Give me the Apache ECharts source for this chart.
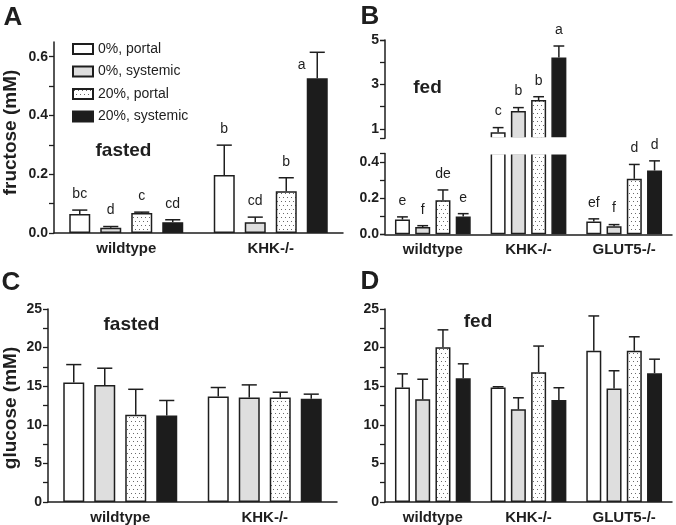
<!DOCTYPE html>
<html><head><meta charset="utf-8">
<script src="https://cdn.jsdelivr.net/npm/echarts@6/dist/echarts.min.js"></script>
<style>html,body{margin:0;padding:0;background:#fff}#c{width:676px;height:525px}</style>
</head><body><div id="c"></div>
<script>
// ---------- data ----------
const seriesNames = ['0%, portal', '0%, systemic', '20%, portal', '20%, systemic'];
const groupsAC = ['wildtype', 'KHK-/-'];
const groupsBD = ['wildtype', 'KHK-/-', 'GLUT5-/-'];

// Panel A: fructose, fasted (per series: [wildtype, KHK-/-])
const fructFastedMean = [[0.065, 0.197], [0.018, 0.037], [0.068, 0.142], [0.037, 0.527]];
const fructFastedErr  = [[0.013, 0.102], [0.004, 0.017], [0.003, 0.046], [0.008, 0.088]];
const fructFastedLetters = [['bc', 'b'], ['d', 'cd'], ['c', 'b'], ['cd', 'a']];

// Panel B: fructose, fed (per series: [wildtype, KHK-/-, GLUT5-/-])
const fructFedMean = [[0.082, 0.85, 0.071], [0.040, 1.81, 0.045], [0.190, 2.30, 0.309], [0.099, 4.21, 0.355]];
const fructFedErr  = [[0.015, 0.21, 0.015], [0.008, 0.15, 0.009], [0.057, 0.15, 0.080], [0.016, 0.52, 0.054]];
const fructFedLetters = [['e', 'c', 'ef'], ['f', 'b', 'f'], ['de', 'b', 'd'], ['e', 'a', 'd']];

// Panel C: glucose, fasted
const glucFastedMean = [[15.47, 13.66], [15.17, 13.53], [11.30, 13.53], [11.20, 13.36]];
const glucFastedErr  = [[2.33, 1.17], [2.16, 1.64], [3.30, 0.69], [1.95, 0.61]];

// Panel D: glucose, fed
const glucFedMean = [[14.83, 14.83, 19.60], [13.30, 12.00, 14.70], [20.04, 16.80, 19.60], [16.03, 13.20, 16.68]];
const glucFedErr  = [[1.77, 0.10, 4.50], [2.60, 1.50, 2.30], [2.26, 3.40, 1.80], [1.87, 1.60, 1.82]];

// axis ticks / labels
const ticksA = [0, 0.1, 0.2, 0.3, 0.4, 0.5, 0.6];
const labelsA = [0, 0.2, 0.4, 0.6];
const ticksBup = [1, 2, 3, 4, 5];
const labelsBup = [1, 3, 5];
const ticksBlo = [0, 0.1, 0.2, 0.3, 0.4];
const labelsBlo = [0, 0.2, 0.4];
const ticksCD = [0, 2.5, 5, 7.5, 10, 12.5, 15, 17.5, 20, 22.5, 25];
const labelsCD = [0, 5, 10, 15, 20, 25];

// ---------- layout / style ----------
const FONT = 'Liberation Sans, Arial, Helvetica, sans-serif';
const INK = '#1e1e1e';
const AX = {
  A:   {min: 0, max: 0.65},
  Bup: {min: 0.58, max: 5},
  Blo: {min: 0, max: 0.45},
  CD:  {min: 0, max: 25}
};
const G = [
  {left: 54, top: 42, width: 289, height: 191},      // A
  {left: 385, top: 40, width: 287, height: 98.3},    // B upper
  {left: 385, top: 153.5, width: 287, height: 80.8}, // B lower
  {left: 48, top: 309, width: 289, height: 193},     // C
  {left: 385, top: 309, width: 287, height: 193}     // D
];
const BW_WIDE = 21, GAP_WIDE = 0.476;
const BW_NARROW = 15, GAP_NARROW = 0.35;

function makeDots() {
  const cv = document.createElement('canvas');
  cv.width = 4; cv.height = 8;
  const g = cv.getContext('2d');
  g.fillStyle = '#ffffff'; g.fillRect(0, 0, 4, 8);
  g.fillStyle = '#6a6a6a'; g.fillRect(1, 1, 1, 1); g.fillRect(3, 5, 1, 1);
  return cv;
}
const dots = makeDots();
const BORDER = 1.5;
const barStyles = [
  {color: '#ffffff', borderColor: INK, borderWidth: BORDER},
  {color: '#dedede', borderColor: INK, borderWidth: BORDER},
  {color: {image: dots, repeat: 'repeat'}, borderColor: INK, borderWidth: BORDER},
  {color: '#1c1c1c', borderColor: INK, borderWidth: BORDER}
];

function xAx(gi, cats, show) {
  return {
    type: 'category', gridIndex: gi, data: cats, show: show,
    axisLine: {lineStyle: {color: INK, width: 1.5}},
    axisTick: {alignWithLabel: true, length: 5, lineStyle: {color: INK, width: 1.3}},
    axisLabel: {fontFamily: FONT, fontSize: 15, fontWeight: 'bold', color: INK, margin: 8},
    splitLine: {show: false}
  };
}
function yAx(gi, ext, ticks, labels, dec, capTicks) {
  return {
    type: 'value', gridIndex: gi, min: ext.min, max: ext.max,
    axisLine: {show: true, lineStyle: {color: INK, width: 1.5}},
    axisTick: {show: true, length: 5, customValues: capTicks ? ticks.concat([ext.min, ext.max]) : ticks, lineStyle: {color: INK, width: 1.3}},
    axisLabel: {customValues: labels, formatter: v => v.toFixed(dec), fontFamily: FONT, fontSize: 14, fontWeight: 'bold', color: INK, margin: 6},
    splitLine: {show: false}
  };
}
function bars(gi, means, bw, gap, keep) {
  return means.map((arr, s) => ({
    type: 'bar', name: seriesNames[s], xAxisIndex: gi, yAxisIndex: gi,
    data: arr.map(v => keep(v) ? v : '-'),
    barWidth: bw, barGap: (gap * 100) + '%',
    itemStyle: barStyles[s], clip: true, silent: true, z: 2
  }));
}
function errs(gi, means, errsArr, letters, bw, gap, ext, mode, capInside) {
  const spacing = bw * (1 + gap);
  const cap = bw * 0.72;
  const data = [];
  means.forEach((arr, s) => arr.forEach((m, c) => {
    data.push([c, m, m + errsArr[s][c], s]);
  }));
  return {
    type: 'custom', xAxisIndex: gi, yAxisIndex: gi, data: data, silent: true, z: 6, clip: false,
    renderItem: function (params, api) {
      const d = data[params.dataIndex];
      const c = d[0], m = d[1], top = d[2], s = d[3];
      if (mode === 'upper' && m < ext.min) return;
      if (mode === 'lower' && top > ext.max) return;
      const p0 = api.coord([c, m]);
      const p1 = api.coord([c, top]);
      const x = p0[0] + (s - 1.5) * spacing;
      const children = [
        {type: 'line', shape: {x1: x, y1: p0[1], x2: x, y2: p1[1]}, style: {stroke: INK, lineWidth: 1.5}},
        {type: 'line', shape: {x1: x - cap / 2, y1: p1[1], x2: x + cap / 2, y2: p1[1]}, style: {stroke: INK, lineWidth: 1.5}}
      ];
      if (letters) {
        let lx = x, ly = p1[1] - 16;
        if (capInside && ly < G[gi].top + 4) { lx = x - spacing / 2; ly = p1[1] + 13; }
        children.push({type: 'text', x: lx, y: ly, style: {text: letters[s][c], fontFamily: FONT, fontSize: 14, fill: INK, align: 'center', verticalAlign: 'middle'}});
      }
      return {type: 'group', children: children};
    }
  };
}

const all = () => true;
const series = [].concat(
  bars(0, fructFastedMean, BW_WIDE, GAP_WIDE, all),
  [errs(0, fructFastedMean, fructFastedErr, fructFastedLetters, BW_WIDE, GAP_WIDE, AX.A, 'all', true)],
  bars(1, fructFedMean, BW_NARROW, GAP_NARROW, v => v >= AX.Bup.min),
  [errs(1, fructFedMean, fructFedErr, fructFedLetters, BW_NARROW, GAP_NARROW, AX.Bup, 'upper', false)],
  bars(2, fructFedMean, BW_NARROW, GAP_NARROW, all),
  [errs(2, fructFedMean, fructFedErr, fructFedLetters, BW_NARROW, GAP_NARROW, AX.Blo, 'lower', false)],
  bars(3, glucFastedMean, BW_WIDE, GAP_WIDE, all),
  [errs(3, glucFastedMean, glucFastedErr, null, BW_WIDE, GAP_WIDE, AX.CD, 'all', false)],
  bars(4, glucFedMean, BW_NARROW, GAP_NARROW, all),
  [errs(4, glucFedMean, glucFedErr, null, BW_NARROW, GAP_NARROW, AX.CD, 'all', false)]
);

function txt(x, y, s, size, bold, rot) {
  return {type: 'text', x: x, y: y, rotation: rot || 0, z: 10,
    style: {text: s, fontFamily: FONT, fontSize: size, fontWeight: bold ? 'bold' : 'normal', fill: INK, align: 'center', verticalAlign: 'middle'}};
}

const option = {
  animation: false,
  backgroundColor: '#ffffff',
  grid: G.map(g => Object.assign({containLabel: false}, g)),
  xAxis: [xAx(0, groupsAC, true), xAx(1, groupsBD, false), xAx(2, groupsBD, true), xAx(3, groupsAC, true), xAx(4, groupsBD, true)],
  yAxis: [
    yAx(0, AX.A, ticksA, labelsA, 1, false),
    yAx(1, AX.Bup, ticksBup, labelsBup, 0, true),
    yAx(2, AX.Blo, ticksBlo, labelsBlo, 1, true),
    yAx(3, AX.CD, ticksCD, labelsCD, 0, false),
    yAx(4, AX.CD, ticksCD, labelsCD, 0, false)
  ],
  legend: {
    data: seriesNames, orient: 'vertical', left: 72, top: 42, itemWidth: 20, itemHeight: 10, itemGap: 8.5,
    icon: 'rect', selectedMode: false,
    textStyle: {fontFamily: FONT, fontSize: 14, color: INK, padding: [0, 0, 0, 0]}, padding: 0
  },
  series: series,
  graphic: [
    // mask for the broken axis of panel B
    {type: 'rect', z: 4, shape: {x: G[1].left + 2, y: G[1].top + G[1].height - 1, width: G[1].width, height: G[2].top - (G[1].top + G[1].height) + 2},
      style: {fill: '#ffffff'}},
    txt(13, 17.5, 'A', 26, true), txt(370, 16.5, 'B', 26, true),
    txt(11, 282.5, 'C', 26, true), txt(370, 281.5, 'D', 26, true),
    txt(123.5, 151, 'fasted', 19, true), txt(427.5, 88, 'fed', 19, true),
    txt(131.5, 325, 'fasted', 19, true), txt(478, 322, 'fed', 19, true),
    txt(11, 132.5, 'fructose (mM)', 19, true, Math.PI / 2),
    txt(11, 408, 'glucose (mM)', 19, true, Math.PI / 2)
  ]
};
const chart = echarts.init(document.getElementById('c'), null, {renderer: 'canvas'});
chart.setOption(option);
</script>
</body></html>
